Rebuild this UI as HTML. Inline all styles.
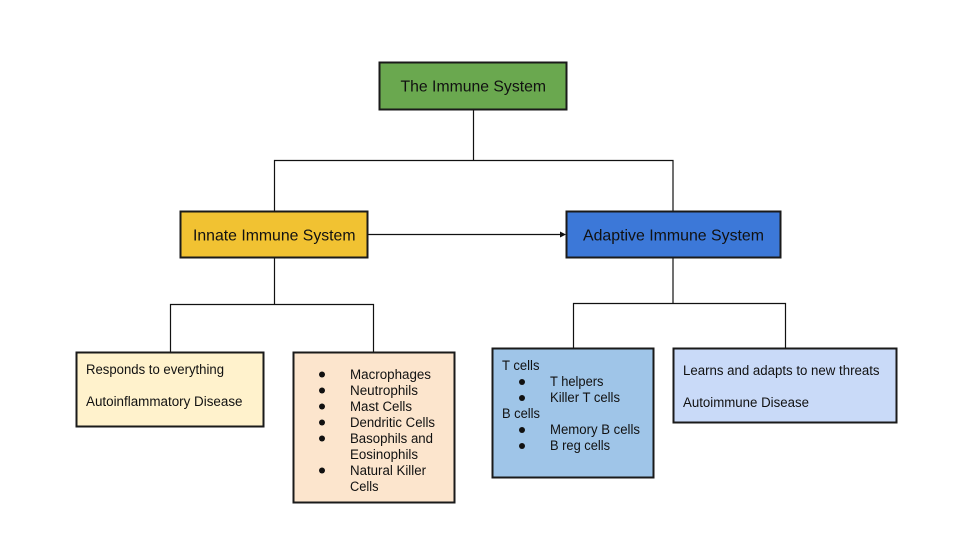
<!DOCTYPE html>
<html>
<head>
<meta charset="utf-8">
<style>
html,body{margin:0;padding:0;background:#fff;width:959px;height:538px;overflow:hidden}
svg{display:block}
text{font-family:"Liberation Sans",Arial,sans-serif;fill:#111}
.l{font-size:16px}
.s{font-size:13.4px}
</style>
</head>
<body>
<svg width="959" height="538" viewBox="0 0 959 538" xmlns="http://www.w3.org/2000/svg">
<rect width="959" height="538" fill="#fff"/>
<g fill="none" stroke="#111" stroke-width="1.2">
<path d="M473.5 110V160.5M274.5 211V160.5H673V211"/>
<path d="M274.5 258V304.5M170.5 352V304.5H373.5V352"/>
<path d="M673 258V303.5M573.5 348V303.5H785.5V348"/>
<path d="M368 234.5H561"/>
</g>
<path d="M560 231.5L566 234.5L560 237.5Z" fill="#111"/>
<g stroke="#1a1a1a" stroke-width="2">
<rect x="379.5" y="62.5" width="187" height="47" fill="#6aa84f"/>
<rect x="180.5" y="211.5" width="187" height="46" fill="#f1c232"/>
<rect x="566.5" y="211.5" width="214" height="46" fill="#3c78d8"/>
<rect x="76.5" y="352.5" width="187" height="74" fill="#fff2cc"/>
<rect x="293.5" y="352.5" width="161" height="150" fill="#fce5cd"/>
<rect x="492.5" y="348.5" width="161" height="129" fill="#9fc5e8"/>
<rect x="673.5" y="348.5" width="223" height="74" fill="#c9daf8"/>
</g>
<g class="l">
<text class="l" x="400.5" y="91.5" textLength="145.5" lengthAdjust="spacingAndGlyphs">The Immune System</text>
<text class="l" x="193" y="240.5" textLength="162.5" lengthAdjust="spacingAndGlyphs">Innate Immune System</text>
<text class="l" x="583" y="240.5" textLength="181" lengthAdjust="spacingAndGlyphs">Adaptive Immune System</text>
</g>
<text class="s" x="86" y="374" textLength="138" lengthAdjust="spacingAndGlyphs">Responds to everything</text>
<text class="s" x="86" y="406" textLength="156.5" lengthAdjust="spacingAndGlyphs">Autoinflammatory Disease</text>
<text class="s" x="350" y="379" textLength="81" lengthAdjust="spacingAndGlyphs">Macrophages</text>
<text class="s" x="350" y="395" textLength="68" lengthAdjust="spacingAndGlyphs">Neutrophils</text>
<text class="s" x="350" y="411" textLength="62" lengthAdjust="spacingAndGlyphs">Mast Cells</text>
<text class="s" x="350" y="427" textLength="85" lengthAdjust="spacingAndGlyphs">Dendritic Cells</text>
<text class="s" x="350" y="443" textLength="83" lengthAdjust="spacingAndGlyphs">Basophils and</text>
<text class="s" x="350" y="459" textLength="68" lengthAdjust="spacingAndGlyphs">Eosinophils</text>
<text class="s" x="350" y="475" textLength="76" lengthAdjust="spacingAndGlyphs">Natural Killer</text>
<text class="s" x="350" y="491" textLength="28.5" lengthAdjust="spacingAndGlyphs">Cells</text>
<g fill="#111">
<circle cx="322" cy="374.5" r="3"/><circle cx="322" cy="390.5" r="3"/><circle cx="322" cy="406.5" r="3"/><circle cx="322" cy="422.5" r="3"/><circle cx="322" cy="438.5" r="3"/><circle cx="322" cy="470.5" r="3"/>
<circle cx="522" cy="382" r="3"/><circle cx="522" cy="398" r="3"/><circle cx="522" cy="430" r="3"/><circle cx="522" cy="446" r="3"/>
</g>
<text class="s" x="502" y="370" textLength="37.5" lengthAdjust="spacingAndGlyphs">T cells</text>
<text class="s" x="550" y="386" textLength="53.5" lengthAdjust="spacingAndGlyphs">T helpers</text>
<text class="s" x="550" y="402" textLength="70" lengthAdjust="spacingAndGlyphs">Killer T cells</text>
<text class="s" x="502" y="418" textLength="38" lengthAdjust="spacingAndGlyphs">B cells</text>
<text class="s" x="550" y="434" textLength="90" lengthAdjust="spacingAndGlyphs">Memory B cells</text>
<text class="s" x="550" y="450" textLength="60" lengthAdjust="spacingAndGlyphs">B reg cells</text>
<text class="s" x="683" y="375" textLength="196.5" lengthAdjust="spacingAndGlyphs">Learns and adapts to new threats</text>
<text class="s" x="683" y="407" textLength="126" lengthAdjust="spacingAndGlyphs">Autoimmune Disease</text>
</svg>
</body>
</html>
